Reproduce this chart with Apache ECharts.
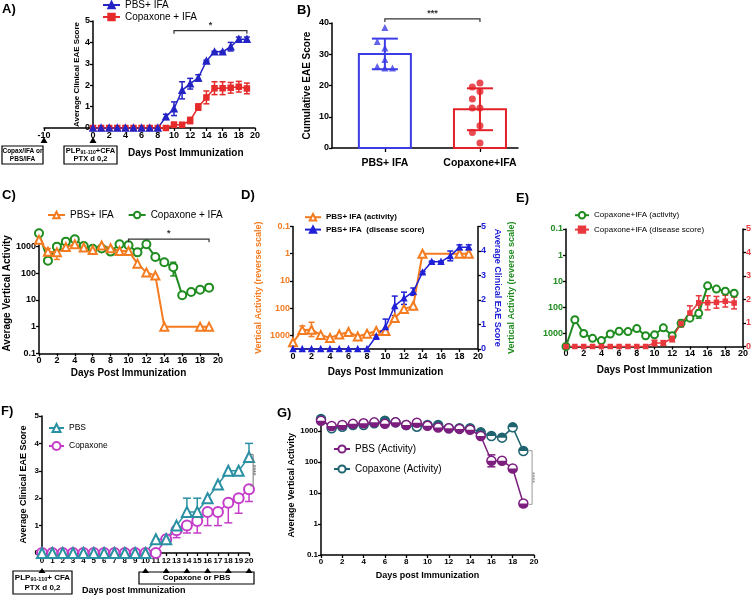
<!DOCTYPE html>
<html><head><meta charset="utf-8">
<script src="https://cdn.jsdelivr.net/npm/echarts@6/dist/echarts.min.js"></script>
<style>html,body{margin:0;padding:0;background:#fff}#c{width:754px;height:597px}</style>
</head><body><div id="c"></div>
<script>
// ---------------- DATA ----------------
const days20 = [0,1,2,3,4,5,6,7,8,9,10,11,12,13,14,15,16,17,18,19];
const days21 = [0,1,2,3,4,5,6,7,8,9,10,11,12,13,14,15,16,17,18,19,20];

// Clinical EAE score (panels A, D, E)
const scorePbs    = [0,0,0,0,0,0,0,0,0,0.52,0.9,1.76,2.07,2.34,3.13,3.56,3.56,3.8,4.15,4.15];
const scorePbsErr = [0,0,0,0,0,0,0,0,0,0.12,0.32,0.4,0.25,0.15,0.04,0.03,0.03,0.2,0.1,0.1];
const scoreCop    = [0,0,0,0,0,0,0,0,0,0,0.15,0.15,0.35,0.98,1.43,1.86,1.86,1.88,1.93,1.85];
const scoreCopErr = [0,0,0,0,0,0,0,0,0,0,0.12,0.1,0.15,0.15,0.3,0.3,0.3,0.25,0.25,0.25];
const signifA = [10, 19, 4.55, '*'];

// Cumulative EAE score (panel B)
const bCategories = ['PBS+ IFA', 'Copaxone+IFA'];
const bMean = [30.1, 12.4];
const bSd = [4.9, 6.7];
const bPbsValues = [38.6, 32.0, 34.1, 28.3, 26.1, 25.6, 25.6];
const bCopValues = [20.8, 19.5, 18.1, 15.7, 12.8, 12.8, 7.1, 5.0, 1.6];
const signifB = [0, 1, 41.3, '***'];

// Vertical activity (panels C, D, E)
const actPbs = [1800,640,620,960,1240,930,750,1100,865,690,690,230,108,82,1,null,null,null,1,1];
const actPbsErr = [[1, 450, 850], [2, 330, 1100]];
const actCop = [3162,298,1000,1540,1880,1050,830,850,650,1220,1130,610,1220,410,260,170,15,20,24,29];
const actCopErr = [[15, 80, 260]];
const signifC = [10, 19, 1900, '*'];

// Log axis ticks
const logTicks = [0.1, 1, 10, 100, 1000];
const logTickLabels = ['0.1', '1', '10', '100', '1000'];

// Panel F
const fPbs        = [0,0,0,0,0,0,0,0,0,0,0,0.5,0.5,1,1.5,1.5,2,2.5,3,3,3.5];
const fPbsErrUp   = [0,0,0,0,0,0,0,0,0,0,0,0,0,0,0.5,0.5,0,0,0,0,0.5];
const fCop        = [0,0,0,0,0,0,0,0,0,0,0,0,0.5,0.83,1,1.17,1.5,1.5,1.83,2,2.33];
const fCopErrDown = [0,0,0,0,0,0,0,0,0,0,0,0,0,0.27,0.27,0.44,0.5,0.5,0.73,0.55,0.45];
const fTreatDays  = [10,12,14,16,18,20];
const signifF = [20.4, 2.45, 3.6, '****'];

// Panel G
const gPbs = [2150,1450,1570,1700,1770,1900,1700,1900,1570,1850,1470,1300,1220,1170,1100,690,110,110,62,4.6];
const gPbsErr = [[16, 70, 170], [19, 3.7, 5.5]];
const gCop = [2450,1220,1380,1570,1570,1770,2150,1900,1570,1380,1570,1570,1220,1220,1220,905,690,610,1310,226];
const signifG = [19.82, 4.3, 232, '****'];

// ---------------- STYLE ----------------
const FONT = '"Liberation Sans", Arial, Helvetica, sans-serif';
const A_BLUE = '#2424c4', A_RED = '#e52b2b';
const B_BLUE = '#3c3ce6', B_RED = '#e42128';
const ORANGE = '#f47b20', GREEN = '#1f8c1f';
const D_BLUE = '#2020d6', E_RED = '#e8383d';
const TEAL = '#2a90a3', MAGENTA = '#c43cc8';
const G_PURPLE = '#7b1e7e', G_TEAL = '#1f6370';
const LOGMAX = Math.pow(10, 3.5);

function merge(a, b) {
  const o = Object.assign({}, a);
  for (const k in b) {
    const v = b[k];
    if (v && typeof v === 'object' && !Array.isArray(v) && a && a[k] && typeof a[k] === 'object' && !Array.isArray(a[k])) o[k] = merge(a[k], v);
    else o[k] = v;
  }
  return o;
}
function axis(extra) {
  return merge({
    axisLine: {show: true, onZero: false, lineStyle: {color: '#000', width: 1.5}},
    axisTick: {show: true, inside: false, length: 3, lineStyle: {color: '#000', width: 1.3}},
    axisLabel: {show: true, color: '#000', fontFamily: FONT, fontWeight: 'bold', fontSize: 9, margin: 3},
    splitLine: {show: false},
    nameLocation: 'middle',
    nameTextStyle: {color: '#000', fontFamily: FONT, fontWeight: 'bold', fontSize: 9}
  }, extra);
}
function fmtLog(v) {
  const i = logTicks.findIndex(t => Math.abs(Math.log10(t) - Math.log10(v)) < 0.01);
  return i >= 0 ? logTickLabels[i] : '';
}
function logAxis(extra) {
  return axis(merge({type: 'log', logBase: 10, min: 0.1, max: LOGMAX,
    axisLabel: {customValues: logTicks, formatter: fmtLog},
    axisTick: {customValues: logTicks}}, extra));
}
function pts(xs, ys) { return xs.map((x, i) => [x, ys[i]]); }
function symErr(xs, m, e) {
  const out = [];
  xs.forEach((x, i) => { if (e[i] > 0) out.push([x, m[i] - e[i], m[i] + e[i], m[i]]); });
  return out;
}
function rangeErr(list, xs, m) {
  return list.map(r => [r[0], r[1], r[2], m[xs.indexOf(r[0])]]);
}
function errSeries(xi, yi, data, color, cap, lw) {
  return {type: 'custom', xAxisIndex: xi, yAxisIndex: yi, data, z: 2, silent: true, clip: false,
    encode: {x: 0, y: [1, 2]},
    renderItem(p, api) {
      const x = api.value(0), lo = api.value(1), hi = api.value(2), m = api.value(3);
      const a = api.coord([x, lo]), b = api.coord([x, hi]);
      const st = {stroke: color, lineWidth: lw || 1.5};
      const ch = [{type: 'line', shape: {x1: a[0], y1: a[1], x2: b[0], y2: b[1]}, style: st}];
      if (lo < m || isNaN(m)) ch.push({type: 'line', shape: {x1: a[0] - cap, y1: a[1], x2: a[0] + cap, y2: a[1]}, style: st});
      if (hi > m || isNaN(m)) ch.push({type: 'line', shape: {x1: b[0] - cap, y1: b[1], x2: b[0] + cap, y2: b[1]}, style: st});
      return {type: 'group', children: ch};
    }};
}
function lineSeries(name, xi, yi, data, color, symbol, size, extra) {
  return merge({type: 'line', name, xAxisIndex: xi, yAxisIndex: yi, data, symbol, symbolSize: size,
    showSymbol: true, showAllSymbol: true, connectNulls: true, z: 3,
    lineStyle: {color, width: 1.5}, itemStyle: {color, borderColor: color, borderWidth: 1.5},
    emphasis: {disabled: true}}, extra || {});
}
function halfMarkers(xi, yi, data, color, r, topHalf, z) {
  return {type: 'custom', xAxisIndex: xi, yAxisIndex: yi, data, z, silent: true, encode: {x: 0, y: 1},
    renderItem(p, api) {
      const c = api.coord([api.value(0), api.value(1)]);
      return {type: 'sector', shape: {cx: c[0], cy: c[1], r0: 0, r,
        startAngle: topHalf ? Math.PI : 0, endAngle: topHalf ? 2 * Math.PI : Math.PI, clockwise: true},
        style: {fill: color}};
    }};
}
function hBracket(xi, yi, s, tick, fs, color) {
  return {type: 'custom', xAxisIndex: xi, yAxisIndex: yi, clip: false, silent: true, z: 5,
    data: [[s[0], s[1], s[2]]], encode: {x: [0, 1], y: 2},
    renderItem(p, api) {
      const a = api.coord([api.value(0), api.value(2)]);
      const b = api.coord([api.value(1), api.value(2)]);
      return {type: 'group', children: [
        {type: 'polyline', shape: {points: [[a[0], a[1] + tick], [a[0], a[1]], [b[0], b[1]], [b[0], b[1] + tick]]},
          style: {stroke: color, lineWidth: 1.2, fill: 'none'}},
        {type: 'text', x: (a[0] + b[0]) / 2, y: a[1] - 1,
          style: {text: s[3], align: 'center', verticalAlign: 'bottom', font: 'bold ' + fs + 'px ' + FONT, fill: color}}
      ]};
    }};
}
function vBracket(xi, yi, s, tick, fs, color) {
  return {type: 'custom', xAxisIndex: xi, yAxisIndex: yi, clip: false, silent: true, z: 5,
    data: [[s[0], s[1], s[2]]], encode: {x: 0, y: [1, 2]},
    renderItem(p, api) {
      const a = api.coord([api.value(0), api.value(1)]);
      const b = api.coord([api.value(0), api.value(2)]);
      return {type: 'group', children: [
        {type: 'polyline', shape: {points: [[a[0] - tick, a[1]], [a[0], a[1]], [b[0], b[1]], [b[0] - tick, b[1]]]},
          style: {stroke: color, lineWidth: 1, fill: 'none'}},
        {type: 'text', x: a[0] + 3, y: (a[1] + b[1]) / 2, rotation: -Math.PI / 2,
          style: {text: s[3], align: 'center', verticalAlign: 'top', font: 'bold ' + fs + 'px ' + FONT, fill: color}}
      ]};
    }};
}
function arrows(xi, yi, xs, dy1, dy2, hw) {
  return {type: 'custom', xAxisIndex: xi, yAxisIndex: yi, clip: false, silent: true, z: 5,
    data: xs.map(x => [x, 0]),
    renderItem(p, api) {
      const c = api.coord([api.value(0), 0]);
      return {type: 'polygon', shape: {points: [[c[0], c[1] + dy1], [c[0] - hw, c[1] + dy2], [c[0] + hw, c[1] + dy2]]},
        style: {fill: '#000'}};
    }};
}
function dodge(vals, step, thr) {
  const placed = [];
  const order = [0, -1, 1, -2, 2];
  return vals.map(v => {
    for (const k of order) {
      if (!placed.some(p => p.k === k && Math.abs(p.v - v) < thr)) { placed.push({k, v}); return k * step; }
    }
    return 0;
  });
}
const stripName = n => n.slice(2);
function legendCfg(extra) {
  return merge({selectedMode: false, formatter: stripName, itemHeight: 8, padding: 0,
    textStyle: {fontFamily: FONT, fontSize: 10, color: '#000'}}, extra);
}

// ---------------- CHART ----------------
const chart = echarts.init(document.getElementById('c'), null, {renderer: 'canvas'});

const bPbsJit = dodge(bPbsValues, 0.08, 2.5);
const bCopJit = dodge(bCopValues, 0.08, 2.5);

const option = {
  animation: false,
  backgroundColor: '#fff',
  textStyle: {fontFamily: FONT},
  grid: [
    {left: 93, top: 21, width: 162, height: 107},   // A
    {left: 44, top: 21, width: 49, height: 107},    // A stub (-10)
    {left: 332, top: 23, width: 186, height: 125},  // B
    {left: 39, top: 233.3, width: 179, height: 120},// C
    {left: 293, top: 226.5, width: 185, height: 122.5}, // D
    {left: 566, top: 229, width: 180, height: 117.5},   // E
    {left: 42, top: 416, width: 207, height: 137},  // F
    {left: 321, top: 415.5, width: 213, height: 139.5} // G
  ],
  xAxis: [
    axis({gridIndex: 0, type: 'value', min: 0, max: 20, interval: 2}),
    axis({gridIndex: 1, type: 'value', min: -10, max: 0, axisLabel: {customValues: [-10]}, axisTick: {customValues: [-10]}}),
    axis({gridIndex: 2, type: 'value', min: -0.556, max: 1.4,
      axisLabel: {customValues: [0, 1], formatter: v => bCategories[Math.round(v)] || '', fontSize: 10.5, margin: 10},
      axisTick: {customValues: [0, 1], length: 4}}),
    axis({gridIndex: 3, type: 'value', min: 0, max: 20, interval: 2, name: 'Days Post Immunization', nameGap: 15, nameTextStyle: {fontSize: 10}}),
    axis({gridIndex: 4, type: 'value', min: 0, max: 20, interval: 2, name: 'Days Post Immunization', nameGap: 18, nameTextStyle: {fontSize: 10}}),
    axis({gridIndex: 5, type: 'value', min: 0, max: 20, interval: 2, name: 'Days Post Immunization', nameGap: 19, nameTextStyle: {fontSize: 10}}),
    axis({gridIndex: 6, type: 'value', min: 0, max: 20, interval: 1, axisLabel: {fontSize: 8, margin: 4}}),
    axis({gridIndex: 7, type: 'value', min: 0, max: 20, interval: 2, axisLabel: {fontSize: 8},
      name: 'Days post Immunization', nameGap: 16, nameTextStyle: {fontSize: 9}})
  ],
  yAxis: [
    axis({gridIndex: 0, type: 'value', min: 0, max: 5, interval: 1, name: 'Average Clinical EAE Score', nameGap: 12, nameTextStyle: {fontSize: 8}}),
    axis({gridIndex: 1, type: 'value', min: 0, max: 5, show: false}),
    axis({gridIndex: 2, type: 'value', min: 0, max: 40, interval: 10, name: 'Cumulative EAE Score', nameGap: 20, nameTextStyle: {fontSize: 10}}),
    logAxis({gridIndex: 3, name: 'Average Vertical Activity', nameGap: 23, nameTextStyle: {fontSize: 10}}),
    logAxis({gridIndex: 4, inverse: true, axisLabel: {color: ORANGE}, name: 'Vertical Activity (reverse scale)', nameGap: 30, nameTextStyle: {fontSize: 9, color: ORANGE}}),
    axis({gridIndex: 4, type: 'value', position: 'right', min: 0, max: 5, interval: 1, axisLabel: {color: D_BLUE},
      name: 'Average Clinical EAE Score', nameRotate: -90, nameGap: 15, nameTextStyle: {fontSize: 9, color: D_BLUE}}),
    logAxis({gridIndex: 5, inverse: true, axisLabel: {color: GREEN}, name: 'Vertical Activity (reverse scale)', nameGap: 50, nameTextStyle: {fontSize: 9, color: GREEN}}),
    axis({gridIndex: 5, type: 'value', position: 'right', min: 0, max: 5, interval: 1, axisLabel: {color: E_RED}}),
    axis({gridIndex: 6, type: 'value', min: 0, max: 5, interval: 1, axisLabel: {fontSize: 8},
      name: 'Average Clinical EAE Score', nameGap: 14, nameTextStyle: {fontSize: 9}}),
    logAxis({gridIndex: 7, axisLabel: {fontSize: 8}, name: 'Average Vertical Activity', nameGap: 22, nameTextStyle: {fontSize: 9}})
  ],
  legend: [
    legendCfg({left: 102, top: 0, orient: 'vertical', itemGap: 2, itemWidth: 17, data: ['A|PBS+ IFA', 'A|Copaxone + IFA']}),
    legendCfg({left: 47, top: 210, orient: 'horizontal', itemGap: 14, itemWidth: 17, data: ['C|PBS+ IFA', 'C|Copaxone + IFA']}),
    legendCfg({left: 304, top: 213, orient: 'vertical', itemGap: 4, itemWidth: 16, textStyle: {fontSize: 8, fontWeight: 'bold'},
      data: ['D|PBS+ IFA (activity)', 'D|PBS+ IFA  (disease score)']}),
    legendCfg({left: 574, top: 211, orient: 'vertical', itemGap: 6, itemWidth: 14, textStyle: {fontSize: 8},
      data: ['E|Copaxone+IFA (activity)', 'E|Copaxone+IFA (disease score)']}),
    legendCfg({left: 48, top: 423, orient: 'vertical', itemGap: 8, itemWidth: 15, itemHeight: 10, textStyle: {fontSize: 8.5},
      data: ['F|PBS', 'F|Copaxone']}),
    legendCfg({left: 333, top: 444, orient: 'vertical', itemGap: 10, itemWidth: 16, itemHeight: 9, textStyle: {fontSize: 10},
      data: ['G|PBS (Activity)', 'G|Copaxone (Activity)']})
  ],
  series: [
    // ---- A ----
    errSeries(0, 0, symErr(days20, scoreCop, scoreCopErr), A_RED, 3),
    errSeries(0, 0, symErr(days20, scorePbs, scorePbsErr), A_BLUE, 3),
    lineSeries('A|Copaxone + IFA', 0, 0, pts(days20, scoreCop), A_RED, 'rect', 5),
    lineSeries('A|PBS+ IFA', 0, 0, pts(days20, scorePbs), A_BLUE, 'triangle', 6),
    hBracket(0, 0, signifA, 3, 9, '#333'),
    arrows(1, 1, [-10], 9, 15, 3.5),
    arrows(0, 0, [0], 9, 15, 3.5),
    // ---- B ----
    {type: 'custom', xAxisIndex: 2, yAxisIndex: 2, silent: true, z: 2,
      data: bMean.map((m, i) => [i, m]), encode: {x: 0, y: 1},
      renderItem(p, api) {
        const i = api.value(0);
        const t = api.coord([i, api.value(1)]), b = api.coord([i, 0]);
        return {type: 'rect', shape: {x: t[0] - 26, y: t[1], width: 52, height: b[1] - t[1]},
          style: {fill: 'none', stroke: i === 0 ? B_BLUE : B_RED, lineWidth: 2}};
      }},
    errSeries(2, 2, [[0, bMean[0] - bSd[0], bMean[0] + bSd[0], bMean[0]]], B_BLUE, 13, 2),
    errSeries(2, 2, [[1, bMean[1] - bSd[1], bMean[1] + bSd[1], bMean[1]]], B_RED, 13, 2),
    {type: 'scatter', xAxisIndex: 2, yAxisIndex: 2, symbol: 'triangle', symbolSize: 7, z: 4,
      itemStyle: {color: B_BLUE}, data: bPbsValues.map((v, i) => [0 + bPbsJit[i], v])},
    {type: 'scatter', xAxisIndex: 2, yAxisIndex: 2, symbol: 'circle', symbolSize: 7, z: 4,
      itemStyle: {color: B_RED}, data: bCopValues.map((v, i) => [1 + bCopJit[i], v])},
    hBracket(2, 2, signifB, 3, 9, '#333'),
    // ---- C ----
    errSeries(3, 3, rangeErr(actCopErr, days20, actCop), GREEN, 3),
    errSeries(3, 3, rangeErr(actPbsErr, days20, actPbs), ORANGE, 3),
    lineSeries('C|Copaxone + IFA', 3, 3, pts(days20, actCop), GREEN, 'emptyCircle', 8, {lineStyle: {width: 2}, itemStyle: {borderWidth: 1.8}}),
    lineSeries('C|PBS+ IFA', 3, 3, pts(days20, actPbs), ORANGE, 'emptyTriangle', 8, {lineStyle: {width: 2}, itemStyle: {borderWidth: 1.8}}),
    hBracket(3, 3, signifC, 3, 9, '#333'),
    // ---- D ----
    errSeries(4, 4, rangeErr(actPbsErr, days20, actPbs), ORANGE, 3),
    lineSeries('D|PBS+ IFA (activity)', 4, 4, pts(days20, actPbs), ORANGE, 'emptyTriangle', 8, {lineStyle: {width: 2}}),
    errSeries(4, 5, symErr(days20, scorePbs, scorePbsErr), D_BLUE, 3),
    lineSeries('D|PBS+ IFA  (disease score)', 4, 5, pts(days20, scorePbs), D_BLUE, 'triangle', 5),
    // ---- E ----
    errSeries(5, 6, rangeErr(actCopErr, days20, actCop), GREEN, 3),
    lineSeries('E|Copaxone+IFA (activity)', 5, 6, pts(days20, actCop), GREEN, 'emptyCircle', 7, {lineStyle: {width: 2}}),
    errSeries(5, 7, symErr(days20, scoreCop, scoreCopErr), E_RED, 3),
    lineSeries('E|Copaxone+IFA (disease score)', 5, 7, pts(days20, scoreCop), E_RED, 'rect', 4),
    // ---- F ----
    errSeries(6, 8, symErr(days21, fCop, fCopErrDown).map(r => [r[0], r[1], r[3], r[3]]), MAGENTA, 4),
    errSeries(6, 8, symErr(days21, fPbs, fPbsErrUp).map(r => [r[0], r[3], r[2], r[3]]), TEAL, 4),
    lineSeries('F|Copaxone', 6, 8, pts(days21, fCop), MAGENTA, 'emptyCircle', 10),
    lineSeries('F|PBS', 6, 8, pts(days21, fPbs), TEAL, 'emptyTriangle', 10),
    vBracket(6, 8, signifF, 3, 7, '#777'),
    arrows(6, 8, [0].concat(fTreatDays), 15, 20, 3.5),
    // ---- G ----
    errSeries(7, 9, rangeErr(gPbsErr, days20, gPbs), G_PURPLE, 4),
    lineSeries('G|Copaxone (Activity)', 7, 9, pts(days20, gCop), G_TEAL, 'circle', 9, {itemStyle: {color: '#fff', borderColor: G_TEAL}}),
    halfMarkers(7, 9, pts(days20, gCop), G_TEAL, 4.5, true, 4),
    lineSeries('G|PBS (Activity)', 7, 9, pts(days20, gPbs), G_PURPLE, 'circle', 9, {z: 5, itemStyle: {color: '#fff', borderColor: G_PURPLE}}),
    halfMarkers(7, 9, pts(days20, gPbs), G_PURPLE, 4.5, false, 6),
    vBracket(7, 9, signifG, 3, 7, '#999')
  ],
  graphic: [
    {type: 'text', x: 2, y: 3, style: {text: 'A)', font: 'bold 13px ' + FONT, fill: '#000'}},
    {type: 'text', x: 297, y: 4, style: {text: 'B)', font: 'bold 13px ' + FONT, fill: '#000'}},
    {type: 'text', x: 2, y: 189, style: {text: 'C)', font: 'bold 13px ' + FONT, fill: '#000'}},
    {type: 'text', x: 241, y: 189, style: {text: 'D)', font: 'bold 13px ' + FONT, fill: '#000'}},
    {type: 'text', x: 516, y: 192, style: {text: 'E)', font: 'bold 13px ' + FONT, fill: '#000'}},
    {type: 'text', x: 1, y: 405, style: {text: 'F)', font: 'bold 13px ' + FONT, fill: '#000'}},
    {type: 'text', x: 277, y: 407, style: {text: 'G)', font: 'bold 13px ' + FONT, fill: '#000'}},
    // A protocol boxes
    {type: 'rect', shape: {x: 2, y: 146, width: 41, height: 18}, style: {fill: '#fff', stroke: '#000', lineWidth: 1.2}},
    {type: 'text', x: 22.5, y: 155, style: {text: 'Copax/IFA or\nPBS/IFA', align: 'center', verticalAlign: 'middle', font: 'bold 6.5px ' + FONT, lineHeight: 8.5, fill: '#000'}},
    {type: 'rect', shape: {x: 64, y: 146, width: 53, height: 18}, style: {fill: '#fff', stroke: '#000', lineWidth: 1.2}},
    {type: 'text', x: 90.5, y: 155, style: {text: '{a|PLP}{s|91-110}{a|+CFA}\n{a|PTX d 0,2}', align: 'center', verticalAlign: 'middle', fill: '#000',
      rich: {a: {font: 'bold 7.5px ' + FONT, lineHeight: 8.5, fill: '#000'}, s: {font: 'bold 5px ' + FONT, lineHeight: 8.5, verticalAlign: 'bottom', fill: '#000'}}}},
    {type: 'text', x: 128, y: 153, style: {text: 'Days Post Immunization', verticalAlign: 'middle', font: 'bold 10px ' + FONT, fill: '#000'}},
    // F protocol boxes
    {type: 'rect', shape: {x: 13, y: 571, width: 59, height: 23}, style: {fill: '#fff', stroke: '#000', lineWidth: 1.2}},
    {type: 'text', x: 42.5, y: 582.5, style: {text: '{a|PLP}{s|91-110}{a|+ CFA}\n{a|PTX d 0,2}', align: 'center', verticalAlign: 'middle', fill: '#000',
      rich: {a: {font: 'bold 8px ' + FONT, lineHeight: 10, fill: '#000'}, s: {font: 'bold 5.5px ' + FONT, lineHeight: 10, verticalAlign: 'bottom', fill: '#000'}}}},
    {type: 'rect', shape: {x: 139, y: 572, width: 115, height: 12}, style: {fill: '#fff', stroke: '#000', lineWidth: 1.2}},
    {type: 'text', x: 196.5, y: 578, style: {text: 'Copaxone or PBS', align: 'center', verticalAlign: 'middle', font: 'bold 8px ' + FONT, fill: '#000'}},
    {type: 'text', x: 82, y: 591, style: {text: 'Days post Immunization', verticalAlign: 'middle', font: 'bold 9px ' + FONT, fill: '#000'}}
  ]
};
chart.setOption(option);
</script>
</body></html>
